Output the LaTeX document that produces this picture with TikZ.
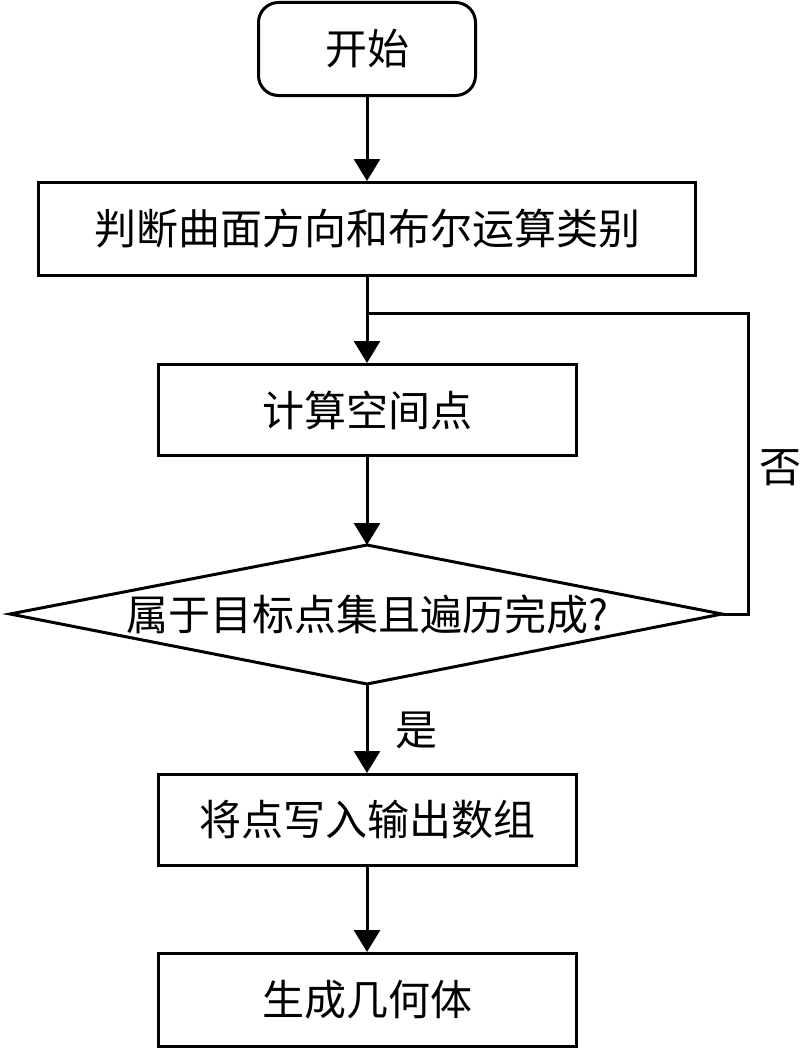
\documentclass[tikz,border=0pt]{standalone}
\usepackage{fontspec}
\setmainfont{Noto Sans CJK SC}
\usetikzlibrary{arrows.meta}
\begin{document}
\begin{tikzpicture}[x=1pt,y=-1pt,
  every node/.style={font=\fontsize{42}{44}\selectfont},
  proc/.style={draw,line width=3pt,inner sep=0pt},
  conn/.style={line width=3pt,-{Triangle[length=22pt,width=26pt]}},
  line/.style={line width=3pt}]
\useasboundingbox (0,0) rectangle (803,1049);
\node[proc,rounded corners=20pt,minimum width=217pt,minimum height=93pt] (start) at (367,49) {开始};
\node[proc,minimum width=657pt,minimum height=93pt] (judge) at (367,229) {判断曲面方向和布尔运算类别};
\node[proc,minimum width=418pt,minimum height=91pt] (calc) at (367,410) {计算空间点};
\draw[line width=3pt,line join=miter] (10,614) coordinate (dl) -- (367,545) coordinate (dt) -- (722,614) coordinate (dr) -- (367,684) coordinate (db) -- cycle;
\node (cond) at (367,614) {属于目标点集且遍历完成?};
\node[proc,minimum width=418pt,minimum height=91pt] (write) at (367,820) {将点写入输出数组};
\node[proc,minimum width=418pt,minimum height=93pt] (gen) at (367,1000) {生成几何体};
\coordinate (j) at (367,313);
\coordinate (c1) at (748,614);
\coordinate (c2) at (748,313);
\draw[conn] (start) -- (judge);
\draw[conn] (judge) -- (calc);
\draw[conn] (calc) -- (dt);
\draw[conn] (db) -- (write);
\draw[conn] (write) -- (gen);
\draw[line] (dr) -- (c1) -- (c2) -- (j);
\node at (780,468) {否};
\node at (416,730) {是};
\end{tikzpicture}
\end{document}
